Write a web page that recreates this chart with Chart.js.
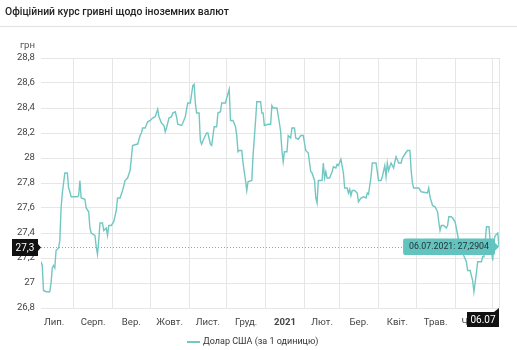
<!DOCTYPE html>
<html>
<head>
<meta charset="utf-8">
<script src="https://cdn.jsdelivr.net/npm/chart.js@4/dist/chart.umd.min.js"></script>
<style>
  html, body { margin: 0; padding: 0; background: #fff; }
  #wrap { position: relative; width: 517px; height: 350px; overflow: hidden; }
  #title { position: absolute; left: 5px; top: 5px; font: 500 10.4px Roboto, sans-serif; color: #222; white-space: nowrap; }
  #sep { position: absolute; left: 0; top: 26px; width: 517px; height: 1px; background: #e2e2e2; }
  #box { position: absolute; left: 0; top: 0; width: 517px; height: 350px; }
</style>
</head>
<body>
<div id="wrap">
  <div id="box"><canvas id="chart"></canvas></div>
  <div id="title">Офіційний курс гривні щодо іноземних валют</div>
  <div id="sep"></div>
</div>
<script>
// ---- data (x = days since 01.07.2020) ----
const days = [
  5, 6, 7, 9, 12, 13, 14, 15, 16, 17,
  19, 20, 21, 22, 24, 26, 27, 28, 29, 34,
  35, 36, 37, 40, 41, 43, 44, 45, 48, 49,
  50, 51, 52, 54, 55, 57, 58, 59, 61, 63,
  65, 66, 68, 70, 72, 74, 76, 78, 81, 82,
  84, 85, 86, 88, 90, 92, 94, 96, 98, 99,
  101, 103, 104, 105, 107, 109, 110, 112, 113, 114,
  117, 118, 120, 121, 122, 124, 126, 127, 128, 129,
  131, 132, 133, 135, 137, 138, 140, 141, 143, 145,
  146, 148, 149, 152, 153, 155, 156, 158, 160, 161,
  162, 163, 165, 166, 168, 169, 170, 173, 174, 176,
  177, 180, 181, 182, 183, 186, 188, 189, 190, 193,
  195, 196, 197, 198, 199, 201, 202, 204, 205, 207,
  208, 210, 212, 214, 216, 218, 220, 221, 223, 224,
  225, 226, 229, 230, 231, 232, 233, 235, 237, 238,
  240, 241, 242, 244, 246, 247, 249, 250, 251, 252,
  253, 255, 257, 258, 260, 262, 264, 265, 266, 268,
  269, 272, 274, 276, 277, 279, 280, 281, 282, 283,
  284, 286, 287, 288, 290, 292, 293, 295, 297, 299,
  300, 301, 302, 306, 308, 313, 314, 315, 317, 319,
  321, 322, 323, 324, 326, 328, 329, 330, 332, 333,
  335, 336, 338, 341, 344, 345, 347, 349, 350, 352,
  353, 356, 357, 358, 360, 362, 363, 365, 366, 367,
  369, 370
];
const rates = [
  27.17, 27.14, 26.94, 26.93, 26.93, 27.00, 27.12, 27.14, 27.12, 27.26,
  27.28, 27.34, 27.60, 27.72, 27.88, 27.88, 27.76, 27.73, 27.69, 27.69,
  27.70, 27.82, 27.68, 27.67, 27.60, 27.57, 27.44, 27.40, 27.38, 27.29,
  27.23, 27.34, 27.48, 27.48, 27.42, 27.44, 27.38, 27.46, 27.46, 27.49,
  27.58, 27.68, 27.68, 27.74, 27.82, 27.84, 27.90, 28.10, 28.11, 28.11,
  28.18, 28.20, 28.24, 28.24, 28.29, 28.30, 28.32, 28.33, 28.39, 28.33,
  28.28, 28.26, 28.21, 28.24, 28.32, 28.33, 28.36, 28.37, 28.33, 28.27,
  28.26, 28.28, 28.33, 28.39, 28.44, 28.44, 28.58, 28.59, 28.44, 28.36,
  28.36, 28.14, 28.11, 28.16, 28.20, 28.20, 28.11, 28.10, 28.25, 28.25,
  28.36, 28.37, 28.44, 28.44, 28.48, 28.55, 28.30, 28.30, 28.25, 28.18,
  28.05, 28.06, 28.06, 27.96, 27.82, 27.74, 27.81, 27.82, 28.02, 28.30,
  28.45, 28.45, 28.36, 28.36, 28.26, 28.27, 28.27, 28.42, 28.40, 28.40,
  28.28, 28.21, 28.06, 27.97, 28.05, 28.05, 28.18, 28.16, 28.24, 28.24,
  28.16, 28.15, 28.18, 28.18, 28.06, 28.04, 27.89, 27.88, 27.82, 27.68,
  27.64, 27.82, 27.82, 27.96, 27.84, 27.89, 27.84, 27.84, 27.89, 27.93,
  27.92, 27.95, 27.94, 27.99, 27.88, 27.76, 27.76, 27.72, 27.75, 27.70,
  27.74, 27.74, 27.72, 27.65, 27.68, 27.69, 27.68, 27.72, 27.71, 27.85,
  27.96, 27.96, 27.82, 27.82, 27.85, 27.94, 27.85, 27.96, 27.90, 27.93,
  27.96, 27.92, 27.97, 28.01, 27.96, 27.96, 28.00, 28.03, 28.06, 28.06,
  27.90, 27.80, 27.76, 27.76, 27.73, 27.72, 27.76, 27.69, 27.62, 27.61,
  27.57, 27.49, 27.42, 27.46, 27.46, 27.44, 27.46, 27.53, 27.53, 27.52,
  27.49, 27.44, 27.33, 27.24, 27.17, 27.10, 27.10, 27.02, 26.93, 27.08,
  27.17, 27.17, 27.21, 27.21, 27.45, 27.45, 27.33, 27.18, 27.34, 27.38,
  27.40, 27.2904
];
const monthStarts = [31, 62, 92, 123, 153, 184, 215, 243, 274, 304, 335, 365];
const monthMids = [15.5, 46.5, 77, 107.5, 138, 168.5, 199.5, 229, 258.5, 289, 319.5, 350];
const monthLabels = ['Лип.', 'Серп.', 'Вер.', 'Жовт.', 'Лист.', 'Груд.', '2021', 'Лют.', 'Бер.', 'Квіт.', 'Трав.', 'Черв.'];
const yTicks = [26.8, 27, 27.2, 27.4, 27.6, 27.8, 28, 28.2, 28.4, 28.6, 28.8];
const seriesName = 'Долар США (за 1 одиницю)';
const lastDate = '06.07.2021';
const axisMark = 27.3;

const LINE = '#72c7c2';
const FONT = 'Roboto, sans-serif';
const fmt = v => String(Number(v.toFixed(4))).replace('.', ',');

// dashed guide + crosshair, drawn under the line
const guides = {
  id: 'guides',
  beforeDatasetsDraw(chart) {
    const { ctx, chartArea: a, scales: { x, y } } = chart;
    const px = x.getPixelForValue(days[days.length - 1]);
    const py = y.getPixelForValue(rates[rates.length - 1]);
    ctx.save();
    ctx.strokeStyle = '#e4e4e4';
    ctx.lineWidth = 1;
    ctx.beginPath();
    ctx.moveTo(Math.round(px) + 0.5, a.top);
    ctx.lineTo(Math.round(px) + 0.5, a.bottom);
    ctx.stroke();
    ctx.strokeStyle = '#a0a0a0';
    ctx.setLineDash([1, 2]);
    ctx.beginPath();
    ctx.moveTo(a.left, Math.round(py) + 0.5);
    ctx.lineTo(px, Math.round(py) + 0.5);
    ctx.stroke();
    ctx.restore();
  }
};

// unit label, axis badges and legend
const extras = {
  id: 'extras',
  afterDraw(chart) {
    const { ctx, chartArea: a, scales: { x, y } } = chart;
    const px = x.getPixelForValue(days[days.length - 1]);
    const py = y.getPixelForValue(rates[rates.length - 1]);
    ctx.save();
    ctx.font = '9.6px ' + FONT;
    ctx.fillStyle = '#555';
    ctx.textAlign = 'right';
    ctx.textBaseline = 'middle';
    ctx.fillText('грн', 35, 46);

    // y badge
    const by = Math.round(py);
    ctx.fillStyle = '#111';
    ctx.fillRect(12, by - 8, 26, 17);
    ctx.beginPath();
    ctx.moveTo(38, by - 3);
    ctx.lineTo(41, by + 0.5);
    ctx.lineTo(38, by + 4);
    ctx.fill();
    ctx.fillStyle = '#fff';
    ctx.textAlign = 'center';
    ctx.font = '10px ' + FONT;
    ctx.fillText(fmt(axisMark), 25, by + 1);

    // x badge
    const bx = Math.round(px);
    ctx.fillStyle = '#111';
    ctx.fillRect(bx - 32, a.bottom + 4, 32, 15);
    ctx.beginPath();
    ctx.moveTo(bx - 5, a.bottom + 4);
    ctx.lineTo(bx, a.bottom);
    ctx.lineTo(bx, a.bottom + 4);
    ctx.fill();
    ctx.fillStyle = '#fff';
    ctx.fillText(lastDate.slice(0, 5), bx - 16, a.bottom + 12);

    // legend
    ctx.strokeStyle = LINE;
    ctx.lineWidth = 2;
    ctx.beginPath();
    ctx.moveTo(187, 342);
    ctx.lineTo(200, 342);
    ctx.stroke();
    ctx.fillStyle = '#333';
    ctx.textAlign = 'left';
    ctx.font = '9px ' + FONT;
    ctx.fillText(seriesName, 203, 342);
    ctx.restore();
  }
};

const chart = new Chart(document.getElementById('chart'), {
  type: 'line',
  data: {
    datasets: [{
      label: seriesName,
      data: days.map((d, i) => ({ x: d, y: rates[i] })),
      borderColor: LINE,
      borderWidth: 1.4,
      pointRadius: 0,
      pointHoverRadius: 0,
      tension: 0,
      xAxisID: 'x',
      yAxisID: 'y'
    }]
  },
  options: {
    responsive: true,
    maintainAspectRatio: false,
    animation: false,
    events: [],
    layout: { padding: { top: 58, right: 18, bottom: 22, left: 0 } },
    scales: {
      x: {
        type: 'linear',
        min: days[0],
        max: days[days.length - 1],
        afterBuildTicks: s => { s.ticks = monthStarts.map(v => ({ value: v })); },
        ticks: { display: false },
        grid: { color: '#e6e6e6', drawTicks: false },
        border: { display: false }
      },
      x2: {
        type: 'linear',
        position: 'bottom',
        min: days[0],
        max: days[days.length - 1],
        afterBuildTicks: s => { s.ticks = monthMids.map(v => ({ value: v })); },
        afterFit: s => { s.height = 20; },
        grid: { display: false },
        border: { display: false },
        ticks: {
          autoSkip: false,
          maxRotation: 0,
          padding: 1,
          color: '#444',
          font: c => ({ family: FONT, size: 9.6, weight: c.tick && c.tick.label === '2021' ? 'bold' : 'normal' }),
          callback: (v, i) => monthLabels[i]
        }
      },
      y: {
        min: yTicks[0],
        max: yTicks[yTicks.length - 1],
        afterBuildTicks: s => { s.ticks = yTicks.map(v => ({ value: v })); },
        afterFit: s => { s.width = 41; },
        grid: { color: '#e6e6e6', drawTicks: false },
        border: { display: false },
        ticks: {
          padding: 6,
          color: '#444',
          font: { family: FONT, size: 9.6 },
          callback: v => fmt(v)
        }
      }
    },
    plugins: {
      legend: { display: false },
      tooltip: {
        enabled: true,
        xAlign: 'right',
        yAlign: 'center',
        backgroundColor: '#62c3bf',
        bodyColor: '#263238',
        bodyFont: { family: FONT, size: 8.8 },
        displayColors: false,
        cornerRadius: 2,
        caretSize: 4,
        caretPadding: 0,
        padding: { top: 3, bottom: 3, left: 6, right: 6 },
        callbacks: {
          title: () => '',
          label: c => lastDate + ': ' + fmt(c.parsed.y)
        }
      }
    }
  },
  plugins: [guides, extras]
});

const last = days.length - 1;
const el = chart.getDatasetMeta(0).data[last];
chart.tooltip.setActiveElements([{ datasetIndex: 0, index: last }], { x: el.x, y: el.y });
chart.update();
</script>
</body>
</html>
